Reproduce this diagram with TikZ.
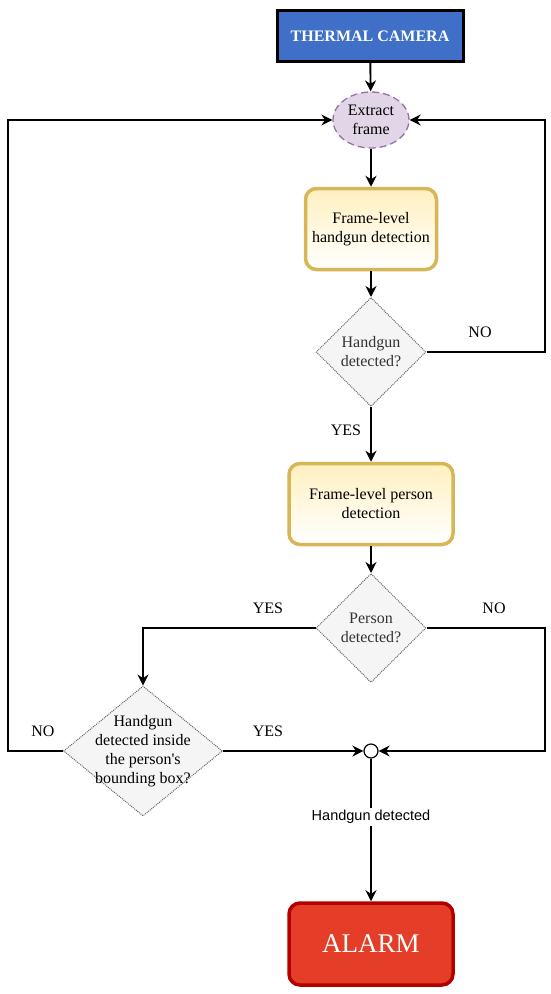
\documentclass[tikz,border=0pt]{standalone}
\usepackage{fontspec}
\setmainfont{Liberation Serif}
\newfontfamily\labelfont{Liberation Sans}
\usetikzlibrary{shapes.geometric,arrows.meta}

\definecolor{camblue}{HTML}{3F6FC6}
\definecolor{extfill}{HTML}{E1D5E7}
\definecolor{extline}{HTML}{9673A6}
\definecolor{procfill}{HTML}{FFF0C0}
\definecolor{procline}{HTML}{D6B656}
\definecolor{qfill}{HTML}{F5F5F5}
\definecolor{qline}{HTML}{666666}
\definecolor{qtext}{HTML}{333333}
\definecolor{alarmfill}{HTML}{E43D28}
\definecolor{alarmline}{HTML}{B20000}

\begin{document}
\begin{tikzpicture}[x=1pt,y=-1pt,
  every node/.style={font=\fontsize{16}{19}\selectfont, align=center},
  camera/.style={draw=black, line width=3pt, fill=camblue, text=white,
    minimum width=186, minimum height=51, font=\fontsize{16}{19}\selectfont\bfseries},
  extract/.style={ellipse, draw=extline, dash pattern=on 7pt off 4pt, line width=1.3pt, fill=extfill,
    minimum width=76, minimum height=56, inner sep=0pt},
  process/.style={draw=procline, line width=3.5pt, rounded corners=11pt,
    top color=procfill, bottom color=white},
  decide/.style={diamond, draw=qline, densely dotted, line width=1pt, fill=qfill,
    inner sep=-20pt, text=qtext},
  junc/.style={circle, draw=black, line width=1.2pt, fill=white, minimum size=14, inner sep=0pt},
  alarmbox/.style={draw=alarmline, line width=3.5pt, rounded corners=11pt, fill=alarmfill,
    text=white, minimum width=164, minimum height=82, font=\fontsize{27}{30}\selectfont},
  lbl/.style={inner sep=1pt},
  tag/.style={fill=white, inner sep=2pt, font=\labelfont\fontsize{14.5}{17}\selectfont},
  arr/.style={line width=1.9pt, -{Stealth[length=11pt,width=11pt]}},
  loopline/.style={line width=1.5pt, -{Stealth[length=11pt,width=11pt]}}]
\useasboundingbox (0,0) rectangle (550,994);

\node[camera] (cam) at (370,36) {THERMAL CAMERA};
\node[extract] (ext) at (371,120) {Extract\\frame};
\node[process, minimum width=131, minimum height=81] (hgd) at (371,229) {Frame-level\\handgun detection};
\node[decide, minimum width=110, minimum height=109] (q1) at (371,352) {Handgun\\detected?};
\node[process, minimum width=164, minimum height=81] (pd) at (371,504) {Frame-level person\\detection};
\node[decide, minimum width=110, minimum height=109] (q2) at (371,628) {Person\\detected?};
\node[decide, minimum width=159, minimum height=130, text=black] (q3) at (143,751) {Handgun\\detected inside\\the person\textquotesingle s\\bounding box?};
\node[junc] (jn) at (371,751) {};
\node[alarmbox] (alarm) at (371,944) {ALARM};

\coordinate (rr) at (545,0);
\coordinate (ll) at (8,0);

% main line
\draw[arr] (cam) -- (ext);
\draw[arr] (ext) -- (hgd);
\draw[arr] (hgd) -- (q1);
\draw[arr] (q1) -- (pd);
\draw[arr] (pd) -- (q2);
\draw[arr] (q2.west) -| (q3.north);
\draw[arr] (q3.east) -- (jn.west);
\draw[arr] (jn) -- node[tag, pos=0.41] (tg) {Handgun detected} (alarm);

% loops back
\draw[loopline] (q1.east) -- (q1.east -| rr) |- (ext.east);
\draw[loopline] (q3.west) -- (q3.west -| ll) |- (ext.west);
\draw[loopline] (q2.east) -- (q2.east -| rr) |- (jn.east);

% branch labels
\node[lbl] (no1) at (480,332) {NO};
\node[lbl] (yes1) at (346,430) {YES};
\node[lbl] (yes2) at (268,608) {YES};
\node[lbl] (no2) at (494,608) {NO};
\node[lbl] (yes3) at (268,731) {YES};
\node[lbl] (no3) at (43,731) {NO};
\end{tikzpicture}
\end{document}
